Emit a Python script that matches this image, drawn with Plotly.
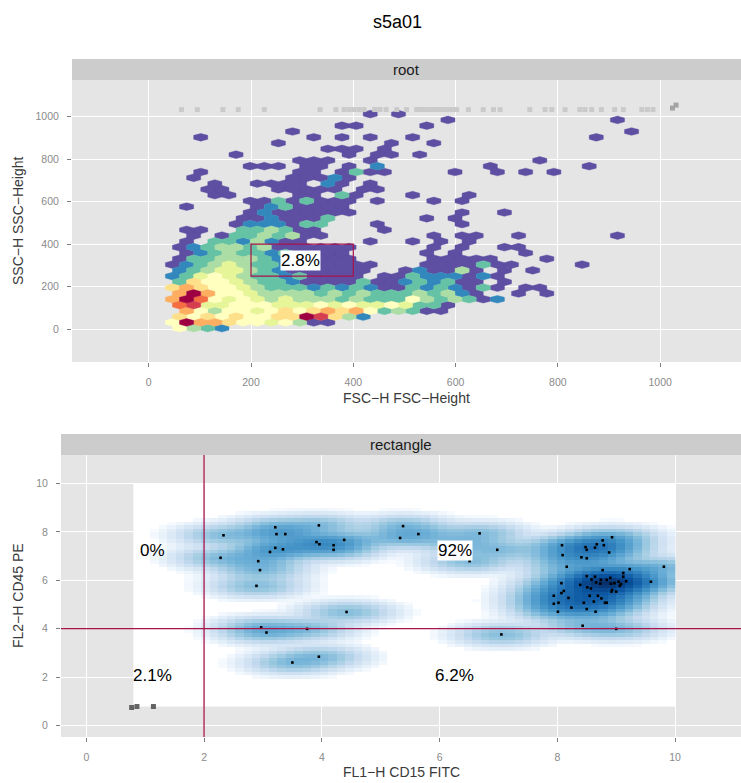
import numpy as np
import plotly.graph_objects as go

W, H = 741, 783
FONT = "Liberation Sans, Arial, sans-serif"

# ---------------- top panel: root, FSC-H vs SSC-H hexbin ----------------
# one string per hexagon row (bottom row first), char = colour level, '.' = empty bin
HEX_ROWS = [
    "..6432",
    ".6b8876656411",
    "..767676677ba742",
    "..8646656767878634311",
    "..9a556665556565565331",
    ".8b9656545444343336434312",
    "..8b86654444343433343421..1.1",
    ".787665433323232113232131.11",
    "..3766543321111311232311.1",
    ".23565433231111.113222121",
    "..23455432111111..121141.1.1",
    ".123454332111111...1111311....1",
    "..1334443211111.....11111...1",
    "..123433231111.....1.1....1",
    "..1234434111111.....1.1..11",
    "..1.3324211....1..1.1.1",
    "...1.13343411.......1.11..1......1",
    "..11..334311....1",
    "......1222133...1.....1",
    "......1121113......1.1",
    ".......12111111.......1..1",
    "..1....1231111",
    ".......11313111.1...1.1",
    "....11....11.31...1...1",
    "....11...11111.11",
    "....1..1111.21.1",
    "...1......11121",
    "...1......11.1311....1..1.1.1",
    ".......111.11.1.2.......1......1",
    "..........111..1...........1",
    "......1.......1.11.1",
    "............111.1",
    ".........1.......1..1",
    "...1.......1.1.1..1............1",
    "..........1.......................1",
    ".............11....1",
    ".....................1...........1",
    "...............1.1",
]
HEX_FSC0, HEX_SSC0 = 5.0, 5.0       # centre of bin (0, 0)
HEX_DX, HEX_DY = 27.62, 27.2        # bin spacing
HEX_LEVELS = "123456789ab"
HEX_COLOURS = ["#5E4FA2", "#3288BD", "#66C2A5", "#ABDDA4", "#E6F598", "#FFFFBF",
               "#FEE08B", "#FDAE61", "#F46D43", "#D53E4F", "#9E0142"]

# events piled on the upper boundary
RUG_FSC = [64, 95, 145, 175, 226, 335, 366, 382, 392, 401, 411, 421, 442, 452, 464,
           485, 504, 524, 532, 541, 550, 559, 567, 576, 585, 594, 602, 625, 654, 674,
           687, 745, 775, 788, 814, 843, 853, 866, 885, 911, 928, 964, 975, 986]
RUG_SSC = 1033
EDGE_FSC = [1024, 1031]
EDGE_SSC = [1040, 1054]

GATE_FSC = [200, 400]
GATE_SSC = [250, 400]
GATE_LABEL = "2.8%"

# ---------------- bottom panel: rectangle, FL1-H vs FL2-H ----------------
DOT_FL1 = [2.33, 3.21, 3.23, 3.38, 3.95, 3.91, 3.96, 4.20, 4.20, 4.38, 5.38, 5.33,
           3.21, 3.12, 3.34, 2.28, 2.92, 2.95, 2.89, 4.42, 2.97, 3.06, 3.75, 3.95,
           3.50, 5.64, 6.68, 6.35, 6.98, 6.51, 7.05, 8.43, 9.00,
           8.08, 8.09, 8.48, 8.50, 8.64, 8.67, 8.77, 8.93, 8.79, 8.88, 8.41, 8.50,
           8.16, 8.77, 9.23, 9.81, 9.12, 9.12, 8.50, 8.58, 8.64, 8.66, 8.74, 8.84,
           8.90, 8.97, 9.04, 9.08, 9.17, 9.59, 8.39, 8.51, 8.57, 8.73, 8.91, 9.06,
           8.93, 8.92, 9.00, 8.07, 8.07, 8.11, 7.94, 8.55, 8.69, 8.75, 8.19, 8.62,
           8.45, 8.81, 8.84, 7.94, 8.02, 8.24, 8.50, 8.01, 8.65]
DOT_FL2 = [7.86, 8.19, 7.91, 7.91, 8.27, 7.58, 7.49, 7.45, 7.26, 7.67, 8.24, 7.75,
           7.34, 7.17, 7.28, 6.93, 6.79, 6.42, 5.77, 4.69, 4.05, 3.84, 3.99, 2.84,
           2.60, 7.91, 7.94, 7.54, 7.26, 6.79, 3.76, 4.12, 3.99,
           7.45, 7.04, 7.37, 7.26, 7.35, 7.49, 7.65, 7.78, 7.45, 7.15, 6.95, 6.91,
           6.56, 6.42, 6.46, 6.56, 6.30, 6.15, 6.17, 6.03, 6.15, 5.91, 6.02, 6.02,
           6.10, 5.88, 5.94, 5.84, 5.96, 5.94, 5.81, 5.71, 5.66, 5.86, 5.86, 5.77,
           5.60, 5.53, 5.53, 5.88, 5.47, 5.56, 5.36, 5.36, 5.36, 5.25, 5.27, 5.12,
           5.07, 5.07, 5.07, 5.03, 5.07, 4.87, 4.81, 4.70, 4.70]
OOR_FL1 = [0.77, 0.86, 1.14]
OOR_FL2 = [0.74, 0.78, 0.78]

RASTER_RANGE = [0.8, 10.0]
RASTER_BINS = 64
BW_FL1, BW_FL2 = 0.38, 0.22

QUAD_X, QUAD_Y = 2, 4
QUAD_LABELS = ["0%", "92%", "2.1%", "6.2%"]
QUAD_FL1 = [1.13, 6.26, 1.13, 6.26]
QUAD_FL2 = [7.25, 7.25, 2.08, 2.08]

GATE_COLOUR = "#A8134A"


def py(p):
    return 1 - p / H


def px(p):
    return p / W


fig = go.Figure()

# hexagons, one trace per colour level
hw, hh = HEX_DX / 2, HEX_DY * 2 / 3
hex_dx = [0, hw, hw, 0, -hw, -hw, 0]
hex_dy = [hh, hh / 2, -hh / 2, -hh, -hh / 2, hh / 2, hh]
cells = {lv: ([], []) for lv in HEX_LEVELS}
for j, row in enumerate(HEX_ROWS):
    for i, ch in enumerate(row):
        if ch == ".":
            continue
        cx = HEX_FSC0 + i * HEX_DX + (HEX_DX / 2 if j % 2 else 0)
        cy = HEX_SSC0 + j * HEX_DY
        xs, ys = cells[ch]
        xs.extend([cx + d for d in hex_dx] + [None])
        ys.extend([cy + d for d in hex_dy] + [None])

for lv, col in zip(HEX_LEVELS, HEX_COLOURS):
    xs, ys = cells[lv]
    if not xs:
        continue
    fig.add_trace(go.Scatter(x=xs, y=ys, mode="lines", fill="toself",
                             fillcolor=col, line=dict(width=0.4, color=col),
                             hoverinfo="skip", showlegend=False,
                             xaxis="x", yaxis="y"))

fig.add_trace(go.Scatter(x=RUG_FSC, y=[RUG_SSC] * len(RUG_FSC), mode="markers",
                         marker=dict(symbol="square", size=5, color="#CACACA"),
                         showlegend=False, xaxis="x", yaxis="y"))
fig.add_trace(go.Scatter(x=EDGE_FSC, y=EDGE_SSC, mode="markers",
                         marker=dict(symbol="square", size=5, color="#A3A3A3"),
                         showlegend=False, xaxis="x", yaxis="y"))

# density raster for the bottom panel
edges = np.linspace(RASTER_RANGE[0], RASTER_RANGE[1], RASTER_BINS + 1)
mids = (edges[:-1] + edges[1:]) / 2
gx, gy = np.meshgrid(mids, mids)
dens = np.zeros_like(gx)
for a, b in zip(DOT_FL1, DOT_FL2):
    dens += np.exp(-0.5 * ((gx - a) / BW_FL1) ** 2 - 0.5 * ((gy - b) / BW_FL2) ** 2)
z = dens ** 0.27
z = z / z.max()
z[z < 0.12] = 0

blues = [[0, "#FFFFFF"], [0.12, "#F7FBFF"], [0.22, "#DEEBF7"], [0.33, "#C6DBEF"],
         [0.44, "#9ECAE1"], [0.56, "#6BAED6"], [0.68, "#4292C6"], [0.80, "#2171B5"],
         [0.91, "#08519C"], [1, "#08306B"]]
fig.add_trace(go.Heatmap(x=mids, y=mids, z=z, colorscale=blues, zmin=0, zmax=1,
                         showscale=False, hoverinfo="skip", xaxis="x2", yaxis="y2"))
fig.add_trace(go.Scatter(x=DOT_FL1, y=DOT_FL2, mode="markers",
                         marker=dict(symbol="square", size=2.6, color="black"),
                         showlegend=False, xaxis="x2", yaxis="y2"))
fig.add_trace(go.Scatter(x=OOR_FL1, y=OOR_FL2, mode="markers",
                         marker=dict(symbol="square", size=5, color="#636363"),
                         showlegend=False, xaxis="x2", yaxis="y2"))

tick_font = dict(family=FONT, size=10.5, color="#8A8A8A")
axis_common = dict(showgrid=True, gridcolor="white", gridwidth=1.1, zeroline=False,
                   showline=False, ticks="outside", ticklen=4, tickcolor="#7F7F7F",
                   tickwidth=1, tickfont=tick_font, ticklabelstandoff=6)

fig.update_layout(
    width=W, height=H, autosize=False,
    margin=dict(l=0, r=0, t=0, b=0),
    paper_bgcolor="white", plot_bgcolor="#E5E5E5",
    showlegend=False,
    xaxis=dict(domain=[px(72), 1], range=[-150, 1158], anchor="y",
               tickvals=[0, 200, 400, 600, 800, 1000], **axis_common),
    yaxis=dict(domain=[py(362), py(80)], range=[-154, 1172], anchor="x",
               tickvals=[0, 200, 400, 600, 800, 1000], **axis_common),
    xaxis2=dict(domain=[px(61), 1], range=[-0.43, 11.12], anchor="y2",
                tickvals=[0, 2, 4, 6, 8, 10], **axis_common),
    yaxis2=dict(domain=[py(737), py(455)], range=[-0.48, 11.18], anchor="x2",
                tickvals=[0, 2, 4, 6, 8, 10], **axis_common),
)

shapes = [
    # facet strips
    dict(type="rect", xref="paper", yref="paper", x0=px(72), x1=1, y0=py(80), y1=py(59),
         fillcolor="#CCCCCC", line=dict(width=0), layer="below"),
    dict(type="rect", xref="paper", yref="paper", x0=px(61), x1=1, y0=py(455), y1=py(434),
         fillcolor="#CCCCCC", line=dict(width=0), layer="below"),
    # gates
    dict(type="rect", xref="x", yref="y", x0=GATE_FSC[0], x1=GATE_FSC[1],
         y0=GATE_SSC[0], y1=GATE_SSC[1], line=dict(color=GATE_COLOUR, width=1.2)),
    dict(type="line", xref="x2", yref="y2 domain", x0=QUAD_X, x1=QUAD_X, y0=0, y1=1,
         line=dict(color=GATE_COLOUR, width=1.3)),
    dict(type="line", xref="x2 domain", yref="y2", x0=0, x1=1, y0=QUAD_Y, y1=QUAD_Y,
         line=dict(color=GATE_COLOUR, width=1.3)),
]
fig.update_layout(shapes=shapes)

ann = [
    dict(text="s5a01", x=0.536, y=py(22), font=dict(size=18, color="black")),
    dict(text="root", x=(px(72) + 1) / 2, y=py(69.5), font=dict(size=15, color="#1A1A1A")),
    dict(text="rectangle", x=(px(61) + 1) / 2, y=py(444.5),
         font=dict(size=15, color="#1A1A1A")),
    dict(text="FSC−H FSC−Height", x=(px(72) + 1) / 2, y=py(398),
         font=dict(size=14, color="#3A3A3A")),
    dict(text="SSC−H SSC−Height", x=px(18), y=py(221), textangle=-90,
         font=dict(size=14, color="#3A3A3A")),
    dict(text="FL1−H CD15 FITC", x=(px(61) + 1) / 2, y=py(772),
         font=dict(size=14, color="#3A3A3A")),
    dict(text="FL2−H CD45 PE", x=px(18), y=py(596), textangle=-90,
         font=dict(size=14, color="#3A3A3A")),
]
for a in ann:
    a.update(xref="paper", yref="paper", showarrow=False, xanchor="center",
             yanchor="middle")
    a["font"]["family"] = FONT

ann.append(dict(text=GATE_LABEL, x=297.7, y=321, xref="x", yref="y", showarrow=False,
                bgcolor="white", borderpad=0,
                font=dict(family=FONT, size=17, color="black")))
for t, a, b in zip(QUAD_LABELS, QUAD_FL1, QUAD_FL2):
    ann.append(dict(text=t, x=a, y=b, xref="x2", yref="y2", showarrow=False,
                    bgcolor="white" if t == "92%" else None, borderpad=0,
                    font=dict(family=FONT, size=17, color="black")))
fig.update_layout(annotations=ann)

# page body has a default margin; drop it so the figure fills the window
fig.write_html("out.html", config={"displayModeBar": False},
               post_script="document.body.style.margin='0';")
